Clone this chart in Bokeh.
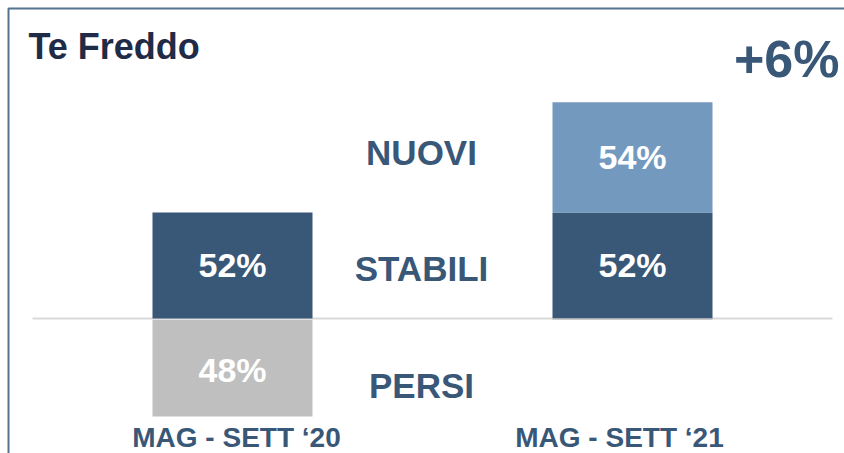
from bokeh.plotting import figure
from bokeh.models import Range1d, BoxAnnotation
from bokeh.core.properties import value
from bokeh.embed import file_html
from bokeh.resources import INLINE

# ---- data ----
periods = ["MAG - SETT \u201820", "MAG - SETT \u201821"]
stabili = [52, 52]
nuovi = [0, 54]
persi = [48, 0]
row_labels = ["NUOVI", "STABILI", "PERSI"]
title_text = "Te Freddo"
delta_text = "+6%"

W, H = 844, 453
PX_PER_X = 400.0
X0_PX = 232.0        # pixel centre of first bar
BASE_PX = 318.0      # pixel of zero line
PX_PER_Y = 2.04

def dx(px):
    return (px - X0_PX) / PX_PER_X

def dy(py):
    return (BASE_PX - py) / PX_PER_Y

p = figure(width=W, height=H, output_backend="svg", toolbar_location=None,
           x_range=Range1d(dx(0), dx(W)), y_range=Range1d(dy(H), dy(0)),
           min_border=0)
p.axis.visible = False
p.grid.visible = False
p.outline_line_color = None
p.background_fill_color = "white"
p.border_fill_color = "white"

FONT = "Liberation Sans"
DARK = "#395777"
LIGHT = "#7499bf"
GRAY = "#bfbfbf"
TXT = "#395777"

# frame lines (top and left)
p.add_layout(BoxAnnotation(left=dx(8), right=dx(W + 50), top=dy(8), bottom=dy(H + 50),
                           fill_alpha=0, line_color="#55728f", line_alpha=1.0,
                           line_width=2))

xs = list(range(len(periods)))
# baseline
p.segment(x0=[-0.5], x1=[len(periods) - 0.5], y0=[0], y1=[0],
          line_color="#d9d9d9", line_width=2)

bw = 0.4
p.vbar(x=xs, width=bw, bottom=0, top=stabili, fill_color=DARK, line_color=None)
p.vbar(x=xs, width=bw, bottom=stabili, top=[s + n for s, n in zip(stabili, nuovi)],
       fill_color=LIGHT, line_color=None)
p.vbar(x=xs, width=bw, bottom=[-v for v in persi], top=-0.6, fill_color=GRAY, line_color=None)

# value labels
lx, ly, lt = [], [], []
for i in xs:
    if stabili[i]:
        lx.append(i); ly.append(stabili[i] / 2); lt.append(f"{stabili[i]}%")
    if nuovi[i]:
        lx.append(i); ly.append(stabili[i] + nuovi[i] / 2); lt.append(f"{nuovi[i]}%")
    if persi[i]:
        lx.append(i); ly.append(-persi[i] / 2 - 1); lt.append(f"{persi[i]}%")
p.text(x=lx, y=ly, text=lt, text_color="white", text_font=value(FONT),
       text_font_size="34px", text_font_style="bold", text_align="center",
       text_baseline="middle")

# row labels
p.text(x=[0.5] * 3, y=[dy(152), dy(268), dy(385)], text=row_labels, x_offset=-11,
       text_color=TXT, text_font=value(FONT), text_font_size="35px",
       text_font_style="bold", text_align="center", text_baseline="middle")

# period labels
p.text(x=xs, y=[dy(437)] * len(xs), text=periods, x_offset=[4, -13],
       text_color=TXT, text_font=value(FONT), text_font_size="28px",
       text_font_style="bold", text_align="center", text_baseline="middle")

# title and delta
p.text(x=[dx(28)], y=[dy(46)], text=[title_text], text_color="#1f2b47",
       text_font=value(FONT), text_font_size="36px", text_font_style="bold",
       text_align="left", text_baseline="middle")
p.text(x=[dx(839)], y=[dy(58)], text=[delta_text], text_color=TXT,
       text_font=value(FONT), text_font_size="52px", text_font_style="bold",
       text_align="right", text_baseline="middle")

open("out.html", "w").write(file_html(p, INLINE))
